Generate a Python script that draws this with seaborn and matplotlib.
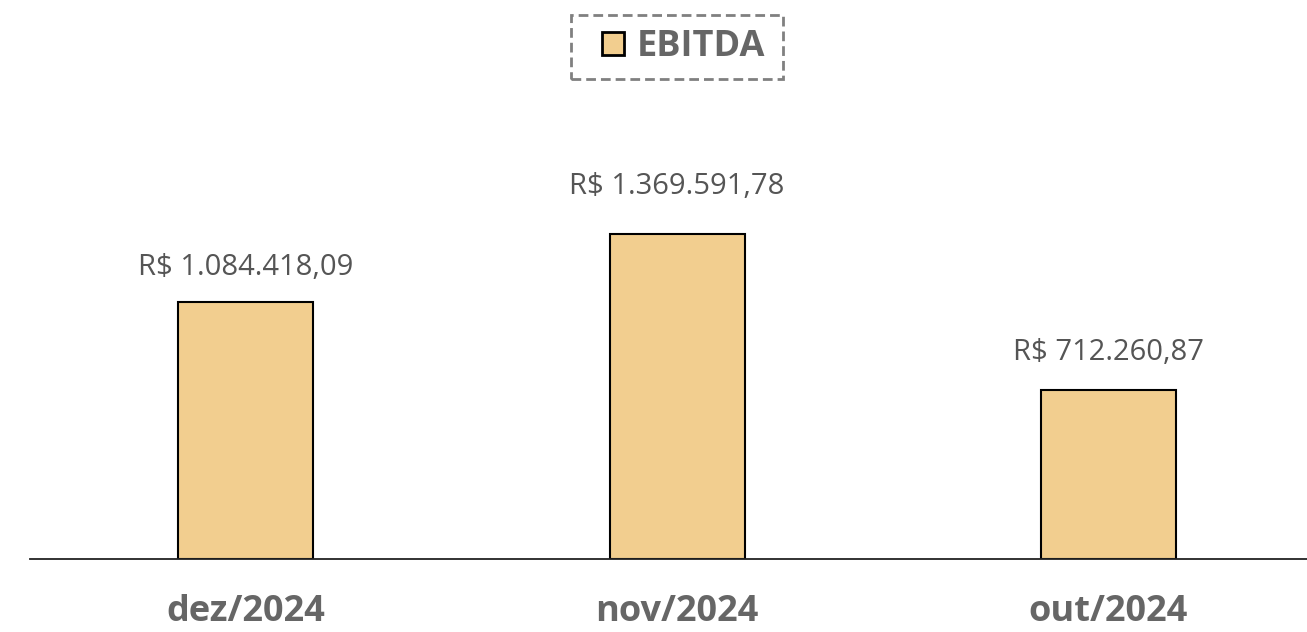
import pandas as pd
import matplotlib.pyplot as plt
import seaborn as sns
from matplotlib.patches import Rectangle

# dados
meses = ['dez/2024', 'nov/2024', 'out/2024']
ebitda = [1084418.09, 1369591.78, 712260.87]
serie = ['EBITDA', 'EBITDA', 'EBITDA']

rotulos = ['R$ 1.084.418,09', 'R$ 1.369.591,78', 'R$ 712.260,87']
# distância do rótulo ao topo da barra (pt)
afast = [19.5, 29, 21.5]

df = pd.DataFrame({'mes': meses, 'valor': ebitda, 'serie': serie})

sns.set_style("white")
plt.rcParams['font.family'] = ['Open Sans', 'DejaVu Sans']

W, H = 1307, 632
fig = plt.figure(figsize=(W / 100, H / 100), dpi=100)
ax = fig.add_axes([30 / W, 73 / H, 1 - 30 / W, (559 - 100) / H])

sns.barplot(data=df, x='mes', y='valor', hue='serie', palette=['#F2CE8F'],
            saturation=1, edgecolor='black', linewidth=1.5, width=0.313, ax=ax)

# rótulos de valor
for i, (v, r, d) in enumerate(zip(ebitda, rotulos, afast)):
    ax.annotate(r, (i, v), xytext=(0, d), textcoords='offset points',
                ha='center', va='baseline', fontsize=21, color='#555555')

ax.set_xlim(-0.5, 2.46)
ax.set_ylim(0, 1934000)
ax.set_xlabel('')
ax.set_ylabel('')
ax.set_yticks([])
ax.tick_params(axis='x', length=0, pad=25)
for lbl in ax.get_xticklabels():
    lbl.set_fontsize(26)
    lbl.set_fontweight('bold')
    lbl.set_color('#666666')

sns.despine(ax=ax, left=True, top=True, right=True)
ax.spines['bottom'].set_color('#222222')
ax.spines['bottom'].set_linewidth(1.3)

# legenda
handles, labels = ax.get_legend_handles_labels()
ax.get_legend().remove()
leg = fig.legend(handles, labels, loc='center left', bbox_to_anchor=(602 / W, 1 - 47 / H),
                 frameon=False, handlelength=0.6, handleheight=0.6,
                 handletextpad=0.36, borderpad=0, borderaxespad=0,
                 prop={'size': 26, 'weight': 'bold'})
for t in leg.get_texts():
    t.set_color('#666666')
for h in leg.legend_handles:
    h.set_linewidth(2)

# moldura tracejada da legenda
fig.patches.append(Rectangle((571 / W, 1 - 79 / H), 212 / W, 64 / H,
                             transform=fig.transFigure, fill=False,
                             edgecolor='#808080', linewidth=2,
                             linestyle=(0, (3.5, 1.8))))

fig.savefig('out.png', dpi=100)
